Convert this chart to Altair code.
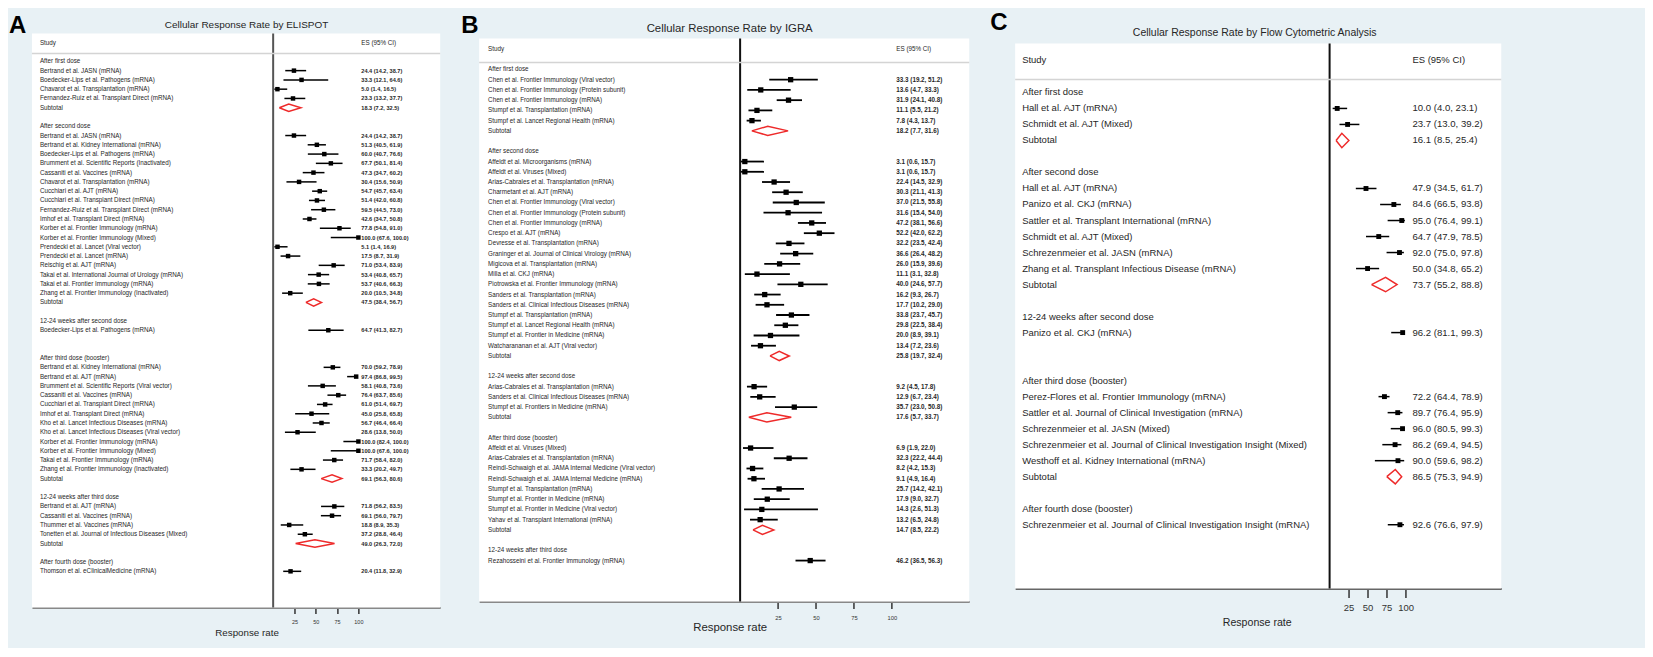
import altair as alt
import pandas as pd

FONT = "Liberation Sans, Arial, sans-serif"
BG = "#e8f1f5"
RED = "#ee2a2a"
TXT = "#262626"

# ---------------- Panel A : ELISPOT ----------------
A_labels = [
    "After first dose",
    "Bertrand et al. JASN (mRNA)",
    "Boedecker-Lips et al. Pathogens (mRNA)",
    "Chavarot et al. Transplantation (mRNA)",
    "Fernandez-Ruiz et al. Transplant Direct (mRNA)",
    "Subtotal",
    "",
    "After second dose",
    "Bertrand et al. JASN (mRNA)",
    "Bertrand et al. Kidney International (mRNA)",
    "Boedecker-Lips et al. Pathogens (mRNA)",
    "Brumment et al. Scientific Reports  (Inactivated)",
    "Cassaniti et al. Vaccines (mRNA)",
    "Chavarot et al. Transplantation (mRNA)",
    "Cucchiari et al. AJT (mRNA)",
    "Cucchiari et al. Transplant Direct (mRNA)",
    "Fernandez-Ruiz et al. Transplant Direct (mRNA)",
    "Imhof et al. Transplant Direct (mRNA)",
    "Korber et al. Frontier Immunology (mRNA)",
    "Korber et al. Frontier Immunology (Mixed)",
    "Prendecki et al. Lancet  (Viral vector)",
    "Prendecki et al. Lancet  (mRNA)",
    "Reischig et al. AJT (mRNA)",
    "Takai et al. International Journal of Urology (mRNA)",
    "Takai et al. Frontier Immunology (mRNA)",
    "Zhang  et al. Frontier Immunology (Inactivated)",
    "Subtotal",
    "",
    "12-24 weeks after  second dose",
    "Boedecker-Lips et al. Pathogens (mRNA)",
    "",
    "",
    "After third dose (booster)",
    "Bertrand et al. Kidney International (mRNA)",
    "Bertrand et al. AJT (mRNA)",
    "Brumment et al. Scientific Reports (Viral vector)",
    "Cassaniti et al. Vaccines (mRNA)",
    "Cucchiari et al. Transplant Direct (mRNA)",
    "Imhof et al. Transplant Direct (mRNA)",
    "Kho et al. Lancet Infectious Diseases (mRNA)",
    "Kho et al. Lancet Infectious Diseases  (Viral vector)",
    "Korber et al. Frontier Immunology (mRNA)",
    "Korber et al. Frontier Immunology (Mixed)",
    "Takai et al. Frontier Immunology (mRNA)",
    "Zhang  et al. Frontier Immunology (Inactivated)",
    "Subtotal",
    "",
    "12-24 weeks after third dose",
    "Bertrand et al. AJT (mRNA)",
    "Cassaniti et al. Vaccines (mRNA)",
    "Thummer et al. Vaccines (mRNA)",
    "Tonetten et al. Journal of Infectious Diseases  (Mixed)",
    "Subtotal",
    "",
    "After fourth dose (booster)",
    "Thomson et al. eClinicalMedicine (mRNA)",
]
A_es = [None, 24.4, 33.3, 5.0, 23.3, 18.3, None,
        None, 24.4, 51.3, 60.0, 67.7, 47.3, 30.4, 54.7, 51.4, 59.5, 42.6, 77.8, 100.0, 5.1, 17.5, 71.0, 53.4, 53.7, 20.0, 47.5, None,
        None, 64.7, None, None,
        None, 70.0, 97.4, 58.1, 76.4, 61.0, 45.0, 56.7, 28.6, 100.0, 100.0, 71.7, 33.3, 69.1, None,
        None, 71.8, 69.1, 18.8, 37.2, 49.0, None,
        None, 20.4]
A_lo = [None, 14.2, 12.1, 1.4, 13.2, 7.2, None,
        None, 14.2, 40.5, 40.7, 50.1, 34.7, 15.6, 45.7, 42.0, 44.5, 34.7, 54.8, 67.6, 1.4, 8.7, 53.4, 40.8, 40.6, 10.5, 38.4, None,
        None, 41.3, None, None,
        None, 59.2, 86.8, 40.8, 63.7, 51.4, 25.8, 46.4, 13.8, 82.4, 67.6, 58.4, 20.2, 56.3, None,
        None, 56.2, 56.0, 8.9, 28.8, 26.3, None,
        None, 11.8]
A_hi = [None, 38.7, 64.6, 16.5, 37.7, 32.5, None,
        None, 38.7, 61.9, 76.6, 81.4, 60.2, 50.9, 63.4, 60.8, 73.0, 50.8, 91.0, 100.0, 16.9, 31.9, 83.9, 65.7, 66.3, 34.8, 56.7, None,
        None, 82.7, None, None,
        None, 78.9, 99.5, 73.6, 85.6, 69.7, 65.8, 66.4, 50.0, 100.0, 100.0, 82.0, 49.7, 80.6, None,
        None, 83.5, 79.7, 35.3, 46.4, 72.0, None,
        None, 32.9]

# ---------------- Panel B : IGRA ----------------
B_labels = [
    "After first dose",
    "Chen et al. Frontier  Immunology (Viral vector)",
    "Chen et al. Frontier  Immunology (Protein subunit)",
    "Chen et al. Frontier Immunology (mRNA)",
    "Stumpf et al. Transplantation (mRNA)",
    "Stumpf et al. Lancet Regional Health (mRNA)",
    "Subtotal",
    "",
    "After second dose",
    "Affeldt et al. Microorganisms (mRNA)",
    "Affeldt et al. Viruses (Mixed)",
    "Arias-Cabrales et al. Transplantation (mRNA)",
    "Charmetant et al. AJT (mRNA)",
    "Chen et al. Frontier  Immunology (Viral vector)",
    "Chen et al. Frontier  Immunology (Protein subunit)",
    "Chen et al. Frontier Immunology (mRNA)",
    "Crespo et al. AJT (mRNA)",
    "Devresse et al. Transplantation (mRNA)",
    "Graninger et al. Journal of Clinical Virology (mRNA)",
    "Migicova et al. Transplantation (mRNA)",
    "Milla et al. CKJ (mRNA)",
    "Piotrowska et al. Frontier Immunology (mRNA)",
    "Sanders et al. Transplantation (mRNA)",
    "Sanders et al. Clinical Infectious Diseases (mRNA)",
    "Stumpf et al. Transplantation (mRNA)",
    "Stumpf et al. Lancet Regional Health (mRNA)",
    "Stumpf et al. Frontier in Medicine (mRNA)",
    "Watcharananan et al. AJT (Viral vector)",
    "Subtotal",
    "",
    "12-24 weeks  after second dose",
    "Arias-Cabrales et al. Transplantation (mRNA)",
    "Sanders et al. Clinical Infectious Diseases (mRNA)",
    "Stumpf et al. Frontiers in Medicine (mRNA)",
    "Subtotal",
    "",
    "After third dose (booster)",
    "Affeldt et al. Viruses (Mixed)",
    "Arias-Cabrales et al. Transplantation (mRNA)",
    "Reindl-Schwaigh et al. JAMA Internal Medicine (Viral vector)",
    "Reindl-Schwaigh et al. JAMA Internal Medicine (mRNA)",
    "Stumpf et al. Transplantation (mRNA)",
    "Stumpf et al. Frontier in Medicine (mRNA)",
    "Stumpf et al. Frontier in Medicine (Viral vector)",
    "Yahav et al. Transplant International (mRNA)",
    "Subtotal",
    "",
    "12-24 weeks after third dose",
    "Rezahosseini et al. Frontier Immunology (mRNA)",
]
B_es = [None, 33.3, 13.6, 31.9, 11.1, 7.8, 18.2, None,
        None, 3.1, 3.1, 22.4, 30.3, 37.0, 31.6, 47.2, 52.2, 32.2, 36.6, 26.0, 11.1, 40.0, 16.2, 17.7, 33.8, 29.8, 20.0, 13.4, 25.8, None,
        None, 9.2, 12.9, 35.7, 17.6, None,
        None, 6.9, 32.3, 8.2, 9.1, 25.7, 17.9, 14.3, 13.2, 14.7, None,
        None, 46.2]
B_lo = [None, 19.2, 4.7, 24.1, 5.5, 4.3, 7.7, None,
        None, 0.6, 0.6, 14.5, 21.1, 21.5, 15.4, 38.1, 42.0, 23.5, 26.4, 15.9, 3.1, 24.6, 9.3, 10.2, 23.7, 22.5, 8.9, 7.2, 19.7, None,
        None, 4.5, 6.7, 23.0, 5.7, None,
        None, 1.9, 22.2, 4.2, 4.9, 14.2, 9.0, 2.6, 6.5, 8.5, None,
        None, 36.5]
B_hi = [None, 51.2, 33.3, 40.8, 21.2, 13.7, 31.6, None,
        None, 15.7, 15.7, 32.9, 41.3, 55.8, 54.0, 56.6, 62.2, 42.4, 48.2, 39.6, 32.8, 57.7, 26.7, 29.0, 45.7, 38.4, 39.1, 23.6, 32.4, None,
        None, 17.8, 23.4, 50.8, 33.7, None,
        None, 22.0, 44.4, 15.3, 16.4, 42.1, 32.7, 51.3, 24.8, 22.2, None,
        None, 56.3]

# ---------------- Panel C : Flow cytometry ----------------
C_labels = [
    "After first dose",
    "Hall et al. AJT (mRNA)",
    "Schmidt et al. AJT (Mixed)",
    "Subtotal",
    "",
    "After second dose",
    "Hall et al. AJT (mRNA)",
    "Panizo et al. CKJ (mRNA)",
    "Sattler et al. Transplant International (mRNA)",
    "Schmidt et al. AJT (Mixed)",
    "Schrezenmeier et al. JASN (mRNA)",
    "Zhang et al. Transplant Infectious Disease (mRNA)",
    "Subtotal",
    "",
    "12-24 weeks after second dose",
    "Panizo et al. CKJ (mRNA)",
    "",
    "",
    "After third dose (booster)",
    "Perez-Flores et al. Frontier Immunology (mRNA)",
    "Sattler et al. Journal of Clinical Investigation (mRNA)",
    "Schrezenmeier et al. JASN (Mixed)",
    "Schrezenmeier et al. Journal of Clinical Investigation Insight (Mixed)",
    "Westhoff et al. Kidney International (mRNA)",
    "Subtotal",
    "",
    "After fourth dose (booster)",
    "Schrezenmeier et al. Journal of Clinical Investigation Insight (mRNA)",
]
C_es = [None, 10.0, 23.7, 16.1, None,
        None, 47.9, 84.6, 95.0, 64.7, 92.0, 50.0, 73.7, None,
        None, 96.2, None, None,
        None, 72.2, 89.7, 96.0, 86.2, 90.0, 86.5, None,
        None, 92.6]
C_lo = [None, 4.0, 13.0, 8.5, None,
        None, 34.5, 66.5, 76.4, 47.9, 75.0, 34.8, 55.2, None,
        None, 81.1, None, None,
        None, 64.4, 76.4, 80.5, 69.4, 59.6, 75.3, None,
        None, 76.6]
C_hi = [None, 23.1, 39.2, 25.4, None,
        None, 61.7, 93.8, 99.1, 78.5, 97.8, 65.2, 88.8, None,
        None, 99.3, None, None,
        None, 78.9, 95.9, 99.3, 94.5, 98.2, 94.9, None,
        None, 97.9]

TICKS = [25, 50, 75, 100]


def build_df(labels, es, lo, hi):
    rows = []
    for i, (lab, e, l, h) in enumerate(zip(labels, es, lo, hi)):
        if lab == "":
            kind = "blank"
        elif e is None:
            kind = "head"
        elif lab == "Subtotal":
            kind = "sub"
        else:
            kind = "study"
        rows.append(dict(row=i + 1, label=lab, es=e, lo=l, hi=h, kind=kind,
                         estext=(f"{e:.1f} ({l:.1f}, {h:.1f})" if e is not None else "")))
    return pd.DataFrame(rows)


def diamond_df(df, hh):
    pts = []
    for _, r in df[df.kind == "sub"].iterrows():
        seq = [(r.lo, r.row), (r.es, r.row - hh), (r.hi, r.row), (r.es, r.row + hh), (r.lo, r.row)]
        for k, (x, y) in enumerate(seq):
            pts.append(dict(id=int(r.row), ord=k, dx=x, dy=y))
    return pd.DataFrame(pts)


def panel(labels, es, lo, hi, c):
    df = build_df(labels, es, lo, hi)
    xs = alt.Scale(domain=c["xdom"], nice=False, zero=False)
    ys = alt.Scale(domain=c["ydom"], reverse=True, nice=False, zero=False)
    axis = alt.Axis(values=TICKS, title="Response rate", grid=False,
                    domainColor=c["domcol"], domainWidth=2,
                    tickColor="#333333", tickWidth=1.5, tickSize=c["tick"],
                    labelFont=FONT, labelFontSize=c["tickfs"], labelColor="#333333",
                    labelPadding=c["lpad"], labelFlush=False,
                    titleFont=FONT, titleFontSize=c["axtfs"], titleFontWeight="normal",
                    titleColor=TXT, titleX=c["atx"], titleY=c["aty"],
                    titleAlign="center", titleBaseline="middle")

    def X(f):
        return alt.X(f, type="quantitative", scale=xs, axis=axis)

    def Y(f):
        return alt.Y(f, type="quantitative", scale=ys, axis=None)

    one = pd.DataFrame({"x0": [0]})
    box = alt.Chart(one).mark_rect(color="white").encode(
        x=alt.value(0), x2=alt.value(c["w"]), y=alt.value(c["top"]), y2=alt.value(c["h"]))
    zero = alt.Chart(one).mark_rule(color=c["zcol"], strokeWidth=2).encode(
        x=X("x0"), y=alt.value(c["top"]), y2=alt.value(c["h"]))
    hsep = alt.Chart(pd.DataFrame({"yh": [c["hline"]]})).mark_rule(
        color="#d4d4d4", strokeWidth=1.5).encode(y=Y("yh"))
    studies = df[df.kind == "study"]
    ci = alt.Chart(studies).mark_rule(color="black", strokeWidth=c["ciw"]).encode(
        x=X("lo"), x2=alt.X2("hi"), y=Y("row"))
    sq = alt.Chart(studies).mark_square(color="black", opacity=1, size=c["sq"]).encode(
        x=X("es"), y=Y("row"))
    dia = alt.Chart(diamond_df(df, c["hh"])).mark_line(
        color=RED, strokeWidth=1.5, strokeJoin="miter").encode(
        x=X("dx"), y=Y("dy"), detail="id:N", order="ord:Q")
    lab = alt.Chart(df[df.kind != "blank"]).mark_text(
        align="left", baseline="middle", font=FONT, fontSize=c["fs"], color=TXT).encode(
        x=alt.value(c["lx"]), y=Y("row"), text="label:N")
    est = alt.Chart(df[df.es.notna()]).mark_text(
        align="left", baseline="middle", font=FONT, fontSize=c["esfs"], color=TXT,
        fontWeight=c["esw"]).encode(
        x=alt.value(c["ex"]), y=Y("row"), text="estext:N")
    hdr = pd.DataFrame({"row": [-1], "s": ["Study"], "e": ["ES (95% CI)"]})
    h1 = alt.Chart(hdr).mark_text(align="left", baseline="middle", font=FONT,
                                  fontSize=c["fs"], color=TXT).encode(
        x=alt.value(c["lx"]), y=Y("row"), text="s:N")
    h2 = alt.Chart(hdr).mark_text(align="left", baseline="middle", font=FONT,
                                  fontSize=c["fs"], color=TXT).encode(
        x=alt.value(c["ex"]), y=Y("row"), text="e:N")
    ttl = alt.Chart(pd.DataFrame({"t": [c["title"]]})).mark_text(
        align="center", baseline="middle", font=FONT, fontSize=c["tfs"], color=TXT).encode(
        x=alt.value(c["tx"]), y=alt.value(c["ty"]), text="t:N")
    let = alt.Chart(pd.DataFrame({"t": [c["letter"]]})).mark_text(
        align="left", baseline="top", font=FONT, fontSize=24, fontWeight="bold",
        color="black").encode(
        x=alt.value(c["letx"]), y=alt.value(c["lety"]), text="t:N")
    return alt.layer(box, zero, hsep, ci, sq, dia, lab, est, h1, h2, ttl, let).properties(
        width=c["w"], height=c["h"])


# all plot areas start at the same top; white boxes start lower in B and C
cA = dict(xdom=[-283, 196], ydom=[-2.0, 59.9], w=409, h=575, top=0, hline=0.15,
          lx=8, ex=330, fs=6.3, esfs=5.6, esw="bold",
          letter="A", letx=-23, lety=-20,
          title="Cellular Response Rate by ELISPOT", tx=215, ty=-9, tfs=10,
          tick=6, tickfs=5.5, lpad=6, atx=215, aty=25, axtfs=9.8,
          sq=20, ciw=1.5, hh=0.4, zcol="#555555", domcol="#888888")
cB = dict(xdom=[-172, 151], ydom=[-2.512, 53.0], w=491, h=569, top=5, hline=0.32,
          lx=9, ex=418, fs=6.3, esfs=6.3, esw="bold",
          letter="B", letx=-18, lety=-20,
          title="Cellular Response Rate by IGRA", tx=251, ty=-5, tfs=11.4,
          tick=7, tickfs=5.8, lpad=6, atx=251, aty=26, axtfs=11.4,
          sq=28, ciw=1.8, hh=0.45, zcol="#111111", domcol="#888888")
cC = dict(xdom=[-414, 226], ydom=[-2.678, 31.985], w=487, h=556, top=10, hline=0.19,
          lx=7, ex=398, fs=9.5, esfs=9.6, esw="normal",
          letter="C", letx=-25, lety=-23,
          title="Cellular Response Rate by Flow Cytometric Analysis", tx=240, ty=-1, tfs=10.5,
          tick=9, tickfs=9.5, lpad=5, atx=242, aty=34, axtfs=10.6,
          sq=24, ciw=1.5, hh=0.45, zcol="#111111", domcol="#666666")

pA = panel(A_labels, A_es, A_lo, A_hi, cA)
pB = panel(B_labels, B_es, B_lo, B_hi, cB)
pC = panel(C_labels, C_es, C_lo, C_hi, cC)

chart = alt.hconcat(pA, pB, pC, spacing=20).properties(
    background=BG,
    padding={"left": 1, "top": 2, "right": 143, "bottom": 10},
).configure_view(strokeOpacity=0)

chart.save("out.html", embed_options={"renderer": "svg", "actions": False})
